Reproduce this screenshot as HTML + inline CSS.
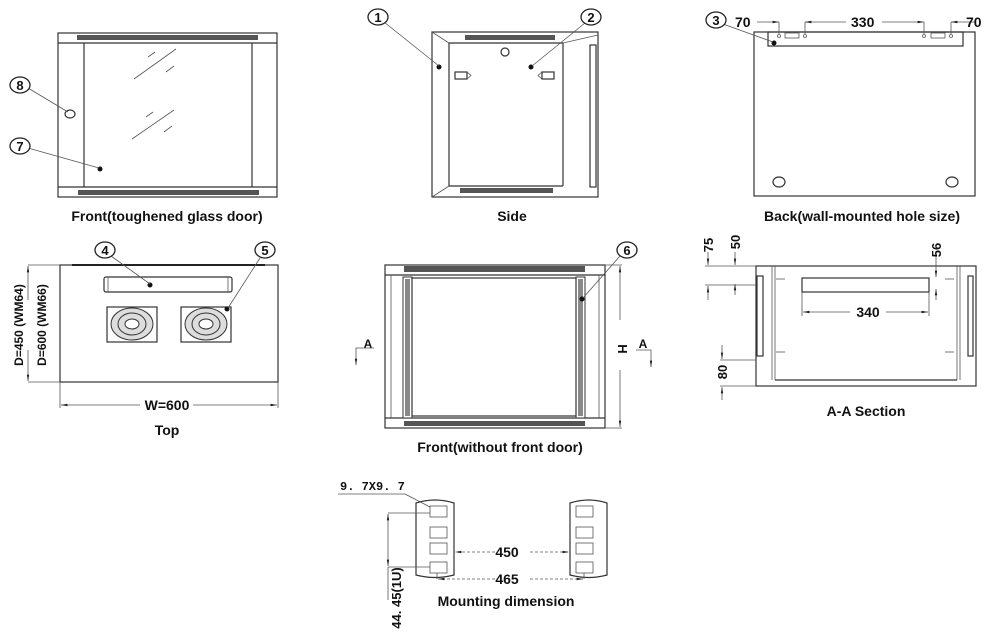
<!DOCTYPE html>
<html><head><meta charset="utf-8"><style>
html,body{margin:0;padding:0;background:#fff;}
svg{display:block;}
text{font-family:"Liberation Sans",sans-serif;fill:#111;}
.lb{font-size:14px;font-weight:bold;text-anchor:middle;}
.dm{font-size:14px;font-weight:bold;}
.ln{fill:none;stroke:#333;stroke-width:1.2;}
.th{fill:none;stroke:#555;stroke-width:0.8;}
.hat{fill:#555;}
.cn{fill:#fff;stroke:#222;stroke-width:1.3;}
.cnt{font-size:13px;font-weight:bold;text-anchor:middle;}
</style></head><body>
<svg width="1000" height="639" viewBox="0 0 1000 639" xmlns="http://www.w3.org/2000/svg">
<defs>
<marker id="ar" markerWidth="8" markerHeight="6" refX="8" refY="3" orient="auto"><path d="M0,1.5 L8,3 L0,4.5z" fill="#222"/></marker>
</defs>

<!-- Front toughened glass door -->
<rect x="58" y="33" width="219" height="164" class="ln"/>
<line x1="58" y1="43" x2="277" y2="43" class="ln"/>
<line x1="58" y1="187" x2="277" y2="187" class="ln"/>
<line x1="84" y1="43" x2="84" y2="187" class="ln"/>
<line x1="252" y1="43" x2="252" y2="187" class="ln"/>
<rect x="77" y="35" width="181" height="5" class="hat"/>
<rect x="78" y="190" width="181" height="5" class="hat"/>
<line x1="134" y1="79" x2="176" y2="49" class="th"/><line x1="148" y1="57" x2="155" y2="52" class="th"/><line x1="166" y1="72" x2="174" y2="66" class="th"/>
<line x1="132" y1="139" x2="174" y2="110" class="th"/><line x1="146" y1="117" x2="153" y2="112" class="th"/><line x1="164" y1="132" x2="172" y2="126" class="th"/>
<ellipse cx="70" cy="114" rx="5" ry="4" class="ln"/>
<circle cx="100" cy="169" r="2.5" fill="#111"/>
<line x1="28" y1="88" x2="68" y2="112" class="th"/>
<line x1="28" y1="148" x2="99" y2="168" class="th"/>
<ellipse cx="20" cy="85" rx="10" ry="8" class="cn"/><text x="20" y="90" class="cnt">8</text>
<ellipse cx="20" cy="146" rx="10" ry="8" class="cn"/><text x="20" y="151" class="cnt">7</text>
<text x="167" y="221" class="lb">Front(toughened glass door)</text>

<!-- Side -->
<rect x="432" y="32" width="166" height="165" class="ln"/>
<line x1="432" y1="32" x2="449" y2="43" class="th"/>
<line x1="432" y1="197" x2="449" y2="186" class="th"/>
<line x1="449" y1="43" x2="563" y2="43" class="ln"/>
<line x1="449" y1="186" x2="563" y2="186" class="ln"/>
<line x1="449" y1="43" x2="449" y2="186" class="ln"/>
<line x1="563" y1="43" x2="563" y2="186" class="ln"/>
<line x1="563" y1="43" x2="598" y2="35" class="th"/>
<rect x="590" y="45" width="6" height="142" fill="#fff" stroke="#333" stroke-width="1.2"/>
<rect x="465" y="35" width="90" height="5" class="hat"/>
<rect x="460" y="188" width="93" height="5" class="hat"/>
<circle cx="505" cy="52" r="4" class="ln"/>
<circle cx="439" cy="67" r="2.5" fill="#111"/>
<circle cx="531" cy="67" r="2.5" fill="#111"/>
<rect x="455" y="72" width="12" height="7" class="ln"/><path d="M467,72 l4,3.5 l-4,3.5" class="th"/>
<rect x="542" y="72" width="12" height="7" class="ln"/><path d="M542,72 l-4,3.5 l4,3.5" class="th"/>
<line x1="384" y1="22" x2="439" y2="66" class="th"/>
<line x1="585" y1="23" x2="532" y2="66" class="th"/>
<ellipse cx="378" cy="17" rx="10" ry="8" class="cn"/><text x="378" y="22" class="cnt">1</text>
<ellipse cx="591" cy="17" rx="10" ry="8" class="cn"/><text x="591" y="22" class="cnt">2</text>
<text x="512" y="221" class="lb">Side</text>

<!-- Back -->
<rect x="754" y="32" width="221" height="164" class="ln"/>
<rect x="768" y="32" width="195" height="14" class="ln"/>
<circle cx="779" cy="36" r="1.5" class="th"/><circle cx="805" cy="36" r="1.5" class="th"/>
<rect x="785" y="33" width="14" height="5" class="th"/>
<circle cx="924" cy="36" r="1.5" class="th"/><circle cx="951" cy="36" r="1.5" class="th"/>
<rect x="931" y="33" width="14" height="5" class="th"/>
<circle cx="774" cy="43" r="2.5" fill="#111"/>
<ellipse cx="779" cy="182" rx="6" ry="5" class="ln"/>
<ellipse cx="952" cy="182" rx="6" ry="5" class="ln"/>
<line x1="723" y1="24" x2="773" y2="42" class="th"/>
<ellipse cx="716" cy="20" rx="10" ry="8" class="cn"/><text x="716" y="25" class="cnt">3</text>
<text x="735" y="27" class="dm">70</text>
<line x1="757" y1="22" x2="779" y2="22" class="th" marker-end="url(#ar)"/><line x1="779" y1="22" x2="779" y2="34" class="th"/>
<line x1="805" y1="22" x2="805" y2="34" class="th"/>
<line x1="846" y1="22" x2="805" y2="22" class="th" marker-end="url(#ar)"/>
<text x="851" y="27" class="dm">330</text>
<line x1="882" y1="22" x2="924" y2="22" class="th" marker-end="url(#ar)"/><line x1="924" y1="22" x2="924" y2="34" class="th"/>
<line x1="951" y1="22" x2="951" y2="34" class="th"/>
<line x1="975" y1="22" x2="951" y2="22" class="th" marker-end="url(#ar)"/>
<text x="966" y="27" class="dm">70</text>
<text x="862" y="221" class="lb">Back(wall-mounted hole size)</text>

<!-- Top -->
<rect x="60" y="265" width="218" height="117" class="ln"/>
<line x1="72" y1="265" x2="265" y2="265" stroke="#222" stroke-width="2"/>
<rect x="104" y="277" width="128" height="15" rx="2" class="ln"/>
<line x1="108" y1="277" x2="108" y2="292" class="th"/><line x1="228" y1="277" x2="228" y2="292" class="th"/>
<circle cx="150" cy="285" r="2.5" fill="#111"/>
<rect x="107" y="307" width="50" height="35" class="ln"/>
<ellipse cx="132" cy="324" rx="21" ry="16" fill="#ddd" stroke="#333"/>
<ellipse cx="132" cy="324" rx="14" ry="11" fill="none" stroke="#333"/>
<ellipse cx="132" cy="324" rx="7" ry="5" fill="#fff" stroke="#333"/>
<rect x="181" y="307" width="50" height="35" class="ln"/>
<ellipse cx="206" cy="324" rx="21" ry="16" fill="#ddd" stroke="#333"/>
<ellipse cx="206" cy="324" rx="14" ry="11" fill="none" stroke="#333"/>
<ellipse cx="206" cy="324" rx="7" ry="5" fill="#fff" stroke="#333"/>
<circle cx="227" cy="309" r="2.5" fill="#111"/>
<line x1="111" y1="256" x2="150" y2="284" class="th"/>
<line x1="260" y1="258" x2="228" y2="308" class="th"/>
<ellipse cx="105" cy="250" rx="10" ry="8" class="cn"/><text x="105" y="255" class="cnt">4</text>
<ellipse cx="265" cy="250" rx="10" ry="8" class="cn"/><text x="265" y="255" class="cnt">5</text>
<line x1="28" y1="265" x2="60" y2="265" class="th"/><line x1="28" y1="382" x2="60" y2="382" class="th"/>
<line x1="28" y1="300" x2="28" y2="266" class="th" marker-end="url(#ar)"/>
<line x1="28" y1="350" x2="28" y2="381" class="th" marker-end="url(#ar)"/>
<text transform="translate(23,325) rotate(-90)" font-size="12" font-weight="bold" text-anchor="middle">D=450 (WM64)</text>
<text transform="translate(46,325) rotate(-90)" font-size="12" font-weight="bold" text-anchor="middle">D=600 (WM66)</text>
<line x1="60" y1="382" x2="60" y2="408" class="th"/><line x1="278" y1="382" x2="278" y2="408" class="th"/>
<line x1="140" y1="405" x2="61" y2="405" class="th" marker-end="url(#ar)"/>
<line x1="193" y1="405" x2="277" y2="405" class="th" marker-end="url(#ar)"/>
<text x="167" y="410" class="dm" text-anchor="middle">W=600</text>
<text x="167" y="435" class="lb">Top</text>

<!-- Front without door -->
<rect x="385" y="265" width="220" height="163" class="ln"/>
<line x1="385" y1="275" x2="605" y2="275" class="ln"/>
<line x1="385" y1="418" x2="605" y2="418" class="ln"/>
<rect x="404" y="266" width="181" height="6" class="hat"/>
<rect x="404" y="421" width="181" height="5" class="hat"/>
<line x1="391" y1="275" x2="391" y2="418" class="th"/>
<line x1="599" y1="275" x2="599" y2="418" class="th"/>
<rect x="403" y="277" width="9" height="141" fill="#fff" stroke="#333"/>
<rect x="405" y="279" width="5" height="137" fill="#888"/>
<rect x="576" y="277" width="9" height="141" fill="#fff" stroke="#333"/>
<rect x="578" y="279" width="5" height="137" fill="#888"/>
<rect x="412" y="278" width="164" height="138" class="ln"/>
<circle cx="582" cy="299" r="2.5" fill="#111"/>
<line x1="620" y1="256" x2="583" y2="298" class="th"/>
<ellipse cx="627" cy="250" rx="10" ry="8" class="cn"/><text x="627" y="255" class="cnt">6</text>
<line x1="605" y1="265" x2="622" y2="265" class="th"/><line x1="605" y1="428" x2="622" y2="428" class="th"/>
<line x1="620" y1="320" x2="620" y2="266" class="th" marker-end="url(#ar)"/>
<line x1="620" y1="370" x2="620" y2="427" class="th" marker-end="url(#ar)"/>
<text x="624" y="347" font-size="13" font-weight="bold" text-anchor="middle" transform="rotate(90,620,345)">H</text>
<text x="368" y="348" font-size="12" font-weight="bold" text-anchor="middle">A</text>
<polyline points="374,348 356,348 356,365" class="th" marker-end="url(#ar)"/>
<text x="643" y="348" font-size="12" font-weight="bold" text-anchor="middle">A</text>
<polyline points="636,350 651,350 651,367" class="th" marker-end="url(#ar)"/>
<text x="500" y="452" class="lb">Front(without front door)</text>

<!-- A-A Section -->
<rect x="756" y="266" width="220" height="120" class="ln"/>
<line x1="772" y1="266" x2="772" y2="380" class="th"/><line x1="775" y1="266" x2="775" y2="380" class="th"/>
<line x1="957" y1="266" x2="957" y2="380" class="th"/><line x1="960" y1="266" x2="960" y2="380" class="th"/>
<rect x="757" y="276" width="6" height="80" class="ln"/>
<rect x="968" y="276" width="5" height="80" class="ln"/>
<line x1="775" y1="380" x2="957" y2="380" class="ln"/>
<rect x="802" y="278" width="127" height="14" class="ln"/>
<polyline points="776,279 785,279" class="th"/><polyline points="776,352 785,352" class="th"/>
<polyline points="954,279 945,279" class="th"/><polyline points="954,352 945,352" class="th"/>
<line x1="802" y1="292" x2="802" y2="316" class="th"/><line x1="929" y1="292" x2="929" y2="316" class="th"/>
<line x1="850" y1="312" x2="803" y2="312" class="th" marker-end="url(#ar)"/>
<line x1="886" y1="312" x2="928" y2="312" class="th" marker-end="url(#ar)"/>
<text x="868" y="317" class="dm" text-anchor="middle">340</text>
<line x1="705" y1="266" x2="756" y2="266" class="th"/>
<line x1="705" y1="285" x2="756" y2="285" class="th"/>
<line x1="708" y1="252" x2="708" y2="265" class="th" marker-end="url(#ar)"/>
<line x1="708" y1="300" x2="708" y2="286" class="th" marker-end="url(#ar)"/>
<text transform="translate(713,245) rotate(-90)" font-size="13" font-weight="bold" text-anchor="middle">75</text>
<line x1="735" y1="252" x2="735" y2="265" class="th" marker-end="url(#ar)"/>
<line x1="735" y1="295" x2="735" y2="284" class="th" marker-end="url(#ar)"/>
<text transform="translate(740,242) rotate(-90)" font-size="13" font-weight="bold" text-anchor="middle">50</text>
<line x1="936" y1="255" x2="936" y2="277" class="th" marker-end="url(#ar)"/>
<line x1="936" y1="300" x2="936" y2="289" class="th" marker-end="url(#ar)"/>
<text transform="translate(941,250) rotate(-90)" font-size="13" font-weight="bold" text-anchor="middle">56</text>
<line x1="720" y1="360" x2="756" y2="360" class="th"/>
<line x1="720" y1="386" x2="756" y2="386" class="th"/>
<line x1="722" y1="345" x2="722" y2="359" class="th" marker-end="url(#ar)"/>
<line x1="722" y1="400" x2="722" y2="387" class="th" marker-end="url(#ar)"/>
<text transform="translate(727,372) rotate(-90)" font-size="13" font-weight="bold" text-anchor="middle">80</text>
<text x="866" y="416" class="lb">A-A Section</text>

<!-- Mounting dimension -->
<text x="340" y="490" font-size="12" font-weight="bold" font-family="Liberation Mono,monospace" style="font-family:'Liberation Mono',monospace">9. 7X9. 7</text>
<line x1="338" y1="494" x2="405" y2="494" class="th"/>
<line x1="405" y1="494" x2="430" y2="507" class="th"/>
<path d="M416,575 L416,503 Q435,497 454,503 L454,575 Q435,580 416,575z" class="ln"/>
<rect x="430" y="506" width="17" height="11" class="th"/>
<rect x="430" y="527" width="17" height="11" class="th"/>
<rect x="430" y="543" width="17" height="11" class="th"/>
<rect x="430" y="562" width="17" height="11" class="th"/>
<path d="M570,575 L570,503 Q589,497 607,503 L607,575 Q589,580 570,575z" class="ln"/>
<rect x="576" y="506" width="17" height="11" class="th"/>
<rect x="576" y="527" width="17" height="11" class="th"/>
<rect x="576" y="543" width="17" height="11" class="th"/>
<rect x="576" y="562" width="17" height="11" class="th"/>
<line x1="388" y1="513" x2="430" y2="513" class="th"/>
<line x1="388" y1="567" x2="430" y2="567" class="th"/>
<line x1="388" y1="540" x2="388" y2="514" class="th" marker-end="url(#ar)"/>
<line x1="388" y1="540" x2="388" y2="566" class="th" marker-end="url(#ar)"/>
<line x1="388" y1="567" x2="388" y2="600" class="th"/>
<text transform="translate(401,598) rotate(-90)" font-size="13" font-weight="bold" text-anchor="middle">44. 45(1U)</text>
<line x1="495" y1="552" x2="455" y2="552" class="th" stroke-dasharray="3,2" marker-end="url(#ar)"/>
<line x1="530" y1="552" x2="569" y2="552" class="th" stroke-dasharray="3,2" marker-end="url(#ar)"/>
<text x="507" y="557" class="dm" text-anchor="middle">450</text>
<line x1="437" y1="573" x2="437" y2="579" class="th"/><line x1="584" y1="573" x2="584" y2="579" class="th"/>
<line x1="495" y1="579" x2="438" y2="579" class="th" stroke-dasharray="3,2" marker-end="url(#ar)"/>
<line x1="530" y1="579" x2="583" y2="579" class="th" stroke-dasharray="3,2" marker-end="url(#ar)"/>
<text x="507" y="584" class="dm" text-anchor="middle">465</text>
<text x="506" y="606" class="lb">Mounting dimension</text>
</svg>
</body></html>
